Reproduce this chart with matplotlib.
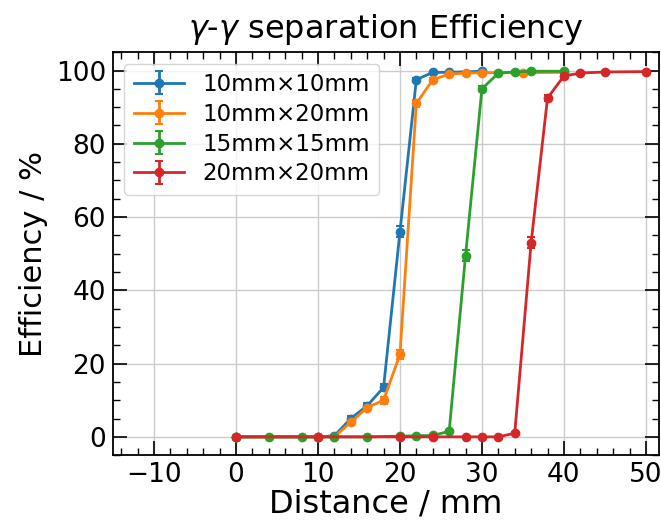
import numpy as np
import matplotlib
matplotlib.use("Agg")
import matplotlib.pyplot as plt
from matplotlib.ticker import AutoMinorLocator

# --- datos ---
x_10x10 = [0, 10, 12, 14, 16, 18, 20, 22, 24, 26, 30]
y_10x10 = [0, 0, 0.3, 5, 8.5, 13.5, 56, 97.5, 99.5, 99.5, 99.8]
e_10x10 = [0.1, 0.1, 0.2, 0.6, 0.8, 1.0, 1.5, 0.5, 0.2, 0.2, 0.1]

x_10x20 = [0, 10, 12, 14, 16, 18, 20, 22, 24, 26, 28, 30, 35, 40]
y_10x20 = [0, 0, 0, 4, 8, 10, 22.5, 91, 97.5, 99, 99.3, 99.4, 99.4, 99.5]
e_10x20 = [0.1, 0.1, 0.1, 0.6, 0.8, 0.9, 1.3, 0.9, 0.5, 0.3, 0.2, 0.2, 0.2, 0.2]

x_15x15 = [0, 4, 8, 12, 16, 20, 22, 24, 26, 28, 30, 32, 34, 36, 40]
y_15x15 = [0, 0, 0, 0, 0, 0.2, 0.3, 0.4, 1.5, 49.5, 95, 99.3, 99.6, 99.8, 99.8]
e_15x15 = [0.1, 0.1, 0.1, 0.1, 0.1, 0.1, 0.2, 0.2, 0.4, 1.5, 0.7, 0.3, 0.2, 0.1, 0.1]

x_20x20 = [0, 10, 20, 24, 28, 30, 32, 34, 36, 38, 40, 42, 45, 50]
y_20x20 = [0, 0, 0, 0, 0, 0, 0, 1, 53, 92.5, 98.5, 99.3, 99.6, 99.7]
e_20x20 = [0.1, 0.1, 0.1, 0.1, 0.1, 0.1, 0.1, 0.3, 1.5, 0.8, 0.4, 0.3, 0.2, 0.2]

series = [
    ("10mm×10mm", x_10x10, y_10x10, e_10x10, "tab:blue"),
    ("10mm×20mm", x_10x20, y_10x20, e_10x20, "tab:orange"),
    ("15mm×15mm", x_15x15, y_15x15, e_15x15, "tab:green"),
    ("20mm×20mm", x_20x20, y_20x20, e_20x20, "tab:red"),
]

fig = plt.figure(figsize=(6.61, 5.22), dpi=100)
ax = fig.add_axes([0.171, 0.128, 0.826, 0.772])

for lab, x, y, e, c in series:
    ax.errorbar(x, y, yerr=e, fmt="o-", color=c, ms=6, lw=2,
                capsize=3, elinewidth=2, capthick=1.5, label=lab)

ax.set_xlim(-15, 51.6)
ax.set_ylim(-5, 105)
ax.set_xticks([-10, 0, 10, 20, 30, 40, 50])
ax.set_yticks([0, 20, 40, 60, 80, 100])
ax.xaxis.set_minor_locator(AutoMinorLocator(5))
ax.yaxis.set_minor_locator(AutoMinorLocator(4))
ax.tick_params(which="both", direction="in", top=True, right=True, labelsize=19, pad=5)
ax.tick_params(which="major", length=10, width=1.2)
ax.tick_params(which="minor", length=5, width=1.0)
for s in ax.spines.values():
    s.set_linewidth(1.3)
ax.grid(True, which="major", color="#cccccc", lw=1)

ax.set_xlabel("Distance / mm", fontsize=23, labelpad=0)
ax.set_ylabel("Efficiency / %", fontsize=22, labelpad=6)
ax.set_title(r"$\gamma$-$\gamma$ separation Efficiency", fontsize=23, pad=10)
ax.legend(loc="upper left", fontsize=16.5, handlelength=2.2, borderpad=0.4,
          labelspacing=0.3, framealpha=0.8)

fig.savefig("out.png", dpi=100)
